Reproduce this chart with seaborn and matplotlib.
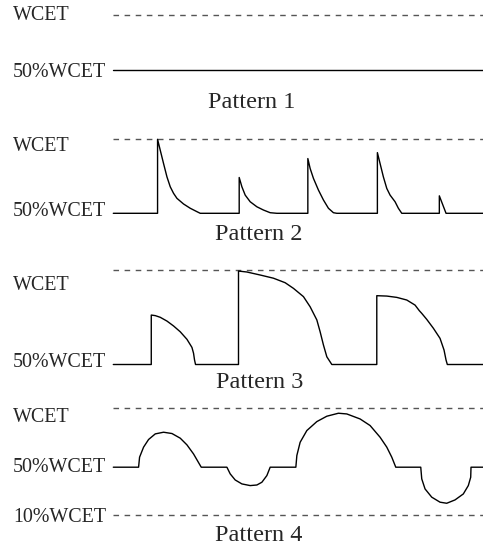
import numpy as np
import pandas as pd
import matplotlib
matplotlib.use("Agg")
import matplotlib.pyplot as plt
import seaborn as sns

sns.set_theme(style="white")
plt.rcParams['font.family'] = ['Liberation Serif', 'DejaVu Serif']

# ---------------- data (time units, value in fraction of WCET) ----------------
p1_t = [0, 370]
p1_v = [0.5, 0.5]

p2_t = [0, 44.3, 44.3, 47, 50.3, 53.7, 57, 60.3, 63.7, 70.3, 77, 83.7, 87,
        126, 126, 128.7, 132, 137, 143.7, 150.3, 157, 163.7,
        194.7, 194.7, 197, 200.3, 205.3, 210.3, 215.3, 220.3, 223.7,
        264.3, 264.3, 267, 270.3, 273.7, 277, 282, 285.3, 288.7,
        326.3, 326.3, 333, 370]
p2_v = [0.5, 0.5, 1.0, 0.926, 0.836, 0.746, 0.679, 0.635, 0.601, 0.563, 0.534, 0.511, 0.5,
        0.5, 0.742, 0.679, 0.623, 0.578, 0.544, 0.522, 0.504, 0.5,
        0.5, 0.870, 0.803, 0.736, 0.657, 0.590, 0.534, 0.504, 0.5,
        0.5, 0.910, 0.836, 0.746, 0.668, 0.623, 0.578, 0.534, 0.5,
        0.5, 0.618, 0.5, 0.5]

p3_t = [0, 38, 38, 42, 47, 53.7, 60.3, 67, 73.7, 78.7, 80.3, 81.3, 82.3,
        125.3, 125.3, 133.7, 147, 160.3, 172, 180.3, 190.3, 197, 203.7, 207, 210.3, 213.7, 218.7,
        263.7, 263.7, 273.7, 283.7, 293.7, 302, 306.3, 308.7, 313.7, 320.3, 327, 331, 333, 334.3,
        370]
p3_v = [0.5, 0.5, 0.763, 0.760, 0.751, 0.731, 0.705, 0.674, 0.634, 0.591, 0.560, 0.524, 0.5,
        0.5, 0.997, 0.992, 0.976, 0.959, 0.935, 0.905, 0.861, 0.807, 0.737, 0.674, 0.604, 0.541, 0.5,
        0.5, 0.866, 0.864, 0.857, 0.843, 0.816, 0.786, 0.772, 0.740, 0.693, 0.639, 0.577, 0.524, 0.5,
        0.5]

p4_t = [0, 25.3, 26.3, 30.3, 35.3, 42, 50.3, 58.7, 67, 73.7, 80.3, 88,
        113.7, 117, 122, 128.7, 137, 143.7, 148.7, 153.7, 157,
        182.7, 183.7, 187, 193.7, 203.7, 213.7, 225.3, 233.7, 247, 257, 267, 273.7, 278.7, 282.7,
        307.7, 308.7, 312, 318.7, 327, 333.7, 342, 350.3, 355.3, 357.7, 358,
        370]
p4_v = [0.5, 0.5, 0.584, 0.668, 0.732, 0.779, 0.793, 0.782, 0.743, 0.687, 0.611, 0.5,
        0.5, 0.444, 0.393, 0.360, 0.346, 0.351, 0.374, 0.430, 0.5,
        0.5, 0.598, 0.709, 0.807, 0.882, 0.927, 0.952, 0.946, 0.904, 0.849, 0.751, 0.668, 0.584, 0.5,
        0.5, 0.402, 0.318, 0.249, 0.207, 0.198, 0.226, 0.276, 0.346, 0.416, 0.5,
        0.5]

patterns = ["Pattern 1", "Pattern 2", "Pattern 3", "Pattern 4"]
ref_levels = [[1.0], [1.0], [1.0], [1.0, 0.1]]
ref_labels = ["WCET", "50%WCET", "10%WCET"]

# ---------------- layout ----------------
W, H = 483, 548
fig = plt.figure(figsize=(W / 100, H / 100), dpi=100)

X0 = 113.3  # pixel where time 0 sits
XMAX = 370.0

def f(x, y):
    return x / W, 1 - y / H

# (top_px, bottom_px, anchor_px, anchor_value, px_per_unit)
panel_geo = [
    (0, 120, 70.0, 0.5, 110.0),
    (125, 230, 213.3, 0.5, 148.0),
    (258, 372, 364.5, 0.5, 188.0),
    (398, 528, 467.2, 0.5, 119.4),
]
series = [(p1_t, p1_v), (p2_t, p2_v), (p3_t, p3_v), (p4_t, p4_v)]

for i, ((top, bot, ay, av, k), (t, v)) in enumerate(zip(panel_geo, series)):
    ax = fig.add_axes([X0 / W, 1 - bot / H, (W - X0) / W, (bot - top) / H])
    ax.set_xlim(0, XMAX * (W - X0) / (W - X0))
    ax.set_ylim(av - (bot - ay) / k, av + (ay - top) / k)
    ax.axis('off')
    for lv in ref_levels[i]:
        ax.axhline(lv, color='#555555', lw=1.0, ls=(0, (4, 4)), clip_on=False)
    df = pd.DataFrame({"t": t, "v": v})
    sns.lineplot(data=df, x="t", y="v", ax=ax, color='black', lw=1.0,
                 estimator=None, sort=False, legend=False)
    for ln in ax.lines:
        ln.set_clip_on(False)

LAB = 14.4
PAT = 17.5
# left labels (baseline pixel positions)
fig.text(*f(13, 20.5), "WCET", fontsize=LAB, va='baseline', ha='left')
fig.text(*f(13, 77), "50%WCET", fontsize=LAB, va='baseline', ha='left')
fig.text(*f(13, 150.7), "WCET", fontsize=LAB, va='baseline', ha='left')
fig.text(*f(13, 216), "50%WCET", fontsize=LAB, va='baseline', ha='left')
fig.text(*f(13, 290), "WCET", fontsize=LAB, va='baseline', ha='left')
fig.text(*f(13, 366.7), "50%WCET", fontsize=LAB, va='baseline', ha='left')
fig.text(*f(13, 422), "WCET", fontsize=LAB, va='baseline', ha='left')
fig.text(*f(13, 471.5), "50%WCET", fontsize=LAB, va='baseline', ha='left')
fig.text(*f(13, 521.5), "10%WCET", fontsize=LAB, va='baseline', ha='left')

pat_pos = [(252, 108), (259, 240), (260, 387.5), (259, 541)]
for name, (px, py) in zip(patterns, pat_pos):
    fig.text(*f(px, py), name, fontsize=PAT, va='baseline', ha='center')

fig.savefig("out.png", dpi=100, facecolor='white')
